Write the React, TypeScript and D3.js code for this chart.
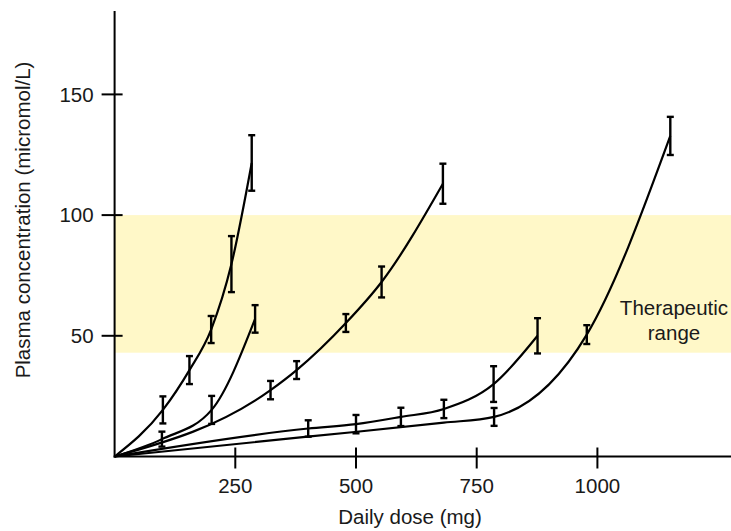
import React, { useEffect, useRef } from "react";
import * as d3 from "d3";

// Dose (mg) and plasma concentration (micromol/L) per patient curve, with error half-widths.
// null error = point, no error bar drawn there.
const doseA = [100, 155, 200, 242, 284];
const concA = [19.3, 35.8, 52.6, 79.7, 121.6];
const errA = [5.6, 5.8, 5.6, 11.6, 11.5];

const doseB = [98, 201, 291];
const concB = [7.2, 19.3, 57];
const errB = [3.1, 5.8, 5.7];

const doseC = [323, 377, 479, 553, 680];
const concC = [27.5, 35.8, 55.3, 72.3, 113];
const errC = [3.8, 3.7, 3.7, 6.4, 8.3];

const doseD = [401, 500, 593, 682, 785, 876];
const concD = [11.6, 13.4, 16.4, 19.7, 30, 50];
const errD = [3.4, 3.8, 3.8, 3.8, 7.4, 7.3];

const doseE = [400, 682, 786, 978, 1151];
const concE = [8.2, 14, 16.4, 50.5, 132.8];
const errE = [null, null, 3.7, 3.9, 7.9];

const xTicks = [250, 500, 750, 1000];
const yTicks = [50, 100, 150];
const therapeuticRange = [43, 100];

const seriesList = [
  { dose: doseA, conc: concA, err: errA },
  { dose: doseB, conc: concB, err: errB },
  { dose: doseC, conc: concC, err: errC },
  { dose: doseD, conc: concD, err: errD },
  { dose: doseE, conc: concE, err: errE },
];

const W = 731;
const H = 531;
const FONT = "'Liberation Sans', Arial, Helvetica, sans-serif";
const FS = 20.5;
const INK = "#1a1a1a";

const App = () => {
  const svgRef = useRef(null);

  useEffect(() => {
    const svg = d3.select(svgRef.current);
    svg.selectAll("*").remove();

    const margin = { top: 11, left: 114.6, bottom: 74.5 };
    const y0 = H - margin.bottom;

    // scales
    const x = d3.scaleLinear().domain([0, 1000]).range([margin.left, margin.left + 482.8]);
    const y = d3.scaleLinear().domain([0, 150]).range([y0, y0 - 362.1]);

    // therapeutic band
    svg
      .append("rect")
      .attr("x", x(0))
      .attr("y", y(therapeuticRange[1]))
      .attr("width", W - x(0))
      .attr("height", y(therapeuticRange[0]) - y(therapeuticRange[1]))
      .attr("fill", "#fff8c8");

    const bandText = svg
      .append("text")
      .attr("font-family", FONT)
      .attr("font-size", FS)
      .attr("fill", INK)
      .attr("text-anchor", "middle");
    bandText.append("tspan").attr("x", 674).attr("y", 315).text("Therapeutic");
    bandText.append("tspan").attr("x", 674).attr("y", 340).text("range");

    // curves
    const line = d3
      .line()
      .x((d) => x(d[0]))
      .y((d) => y(d[1]))
      .curve(d3.curveMonotoneX);

    seriesList.forEach((s) => {
      const pts = [[0, 0], ...s.dose.map((d, i) => [d, s.conc[i]])];
      svg
        .append("path")
        .attr("d", line(pts))
        .attr("fill", "none")
        .attr("stroke", "#000")
        .attr("stroke-width", 2.2);

      // error bars
      const g = svg.append("g").attr("stroke", "#000").attr("stroke-width", 2.4);
      s.dose.forEach((d, i) => {
        if (s.err[i] == null) return;
        const cx = x(d);
        const top = y(s.conc[i] + s.err[i]);
        const bot = y(s.conc[i] - s.err[i]);
        g.append("line").attr("x1", cx).attr("x2", cx).attr("y1", top).attr("y2", bot);
        g.append("line").attr("x1", cx - 3.5).attr("x2", cx + 3.5).attr("y1", top).attr("y2", top);
        g.append("line").attr("x1", cx - 3.5).attr("x2", cx + 3.5).attr("y1", bot).attr("y2", bot);
      });
    });

    // axes
    const axes = svg.append("g").attr("stroke", "#000").attr("stroke-width", 2);
    axes.append("line").attr("x1", x(0)).attr("x2", x(0)).attr("y1", margin.top).attr("y2", y0 + 1);
    axes.append("line").attr("x1", x(0) - 1).attr("x2", W).attr("y1", y0).attr("y2", y0);

    xTicks.forEach((t) => {
      axes.append("line").attr("x1", x(t)).attr("x2", x(t)).attr("y1", y0 - 9).attr("y2", y0 + 12);
      svg
        .append("text")
        .attr("x", x(t))
        .attr("y", y0 + 36.5)
        .attr("text-anchor", "middle")
        .attr("font-family", FONT)
        .attr("font-size", FS)
        .attr("fill", INK)
        .text(t);
    });

    yTicks.forEach((t) => {
      axes.append("line").attr("x1", x(0) - 13).attr("x2", x(0) + 8).attr("y1", y(t)).attr("y2", y(t));
      svg
        .append("text")
        .attr("x", x(0) - 21)
        .attr("y", y(t))
        .attr("dy", "0.36em")
        .attr("text-anchor", "end")
        .attr("font-family", FONT)
        .attr("font-size", FS)
        .attr("fill", INK)
        .text(t);
    });

    // axis titles
    svg
      .append("text")
      .attr("x", 410)
      .attr("y", y0 + 67)
      .attr("text-anchor", "middle")
      .attr("font-family", FONT)
      .attr("font-size", FS)
      .attr("fill", INK)
      .text("Daily dose (mg)");

    svg
      .append("text")
      .attr("transform", `translate(30, 220) rotate(-90)`)
      .attr("text-anchor", "middle")
      .attr("font-family", FONT)
      .attr("font-size", FS)
      .attr("fill", INK)
      .text("Plasma concentration (micromol/L)");
  }, []);

  return (
    <svg
      ref={svgRef}
      width={W}
      height={H}
      style={{ position: "absolute", left: 0, top: 0, background: "#fff" }}
    />
  );
};

export default App;
